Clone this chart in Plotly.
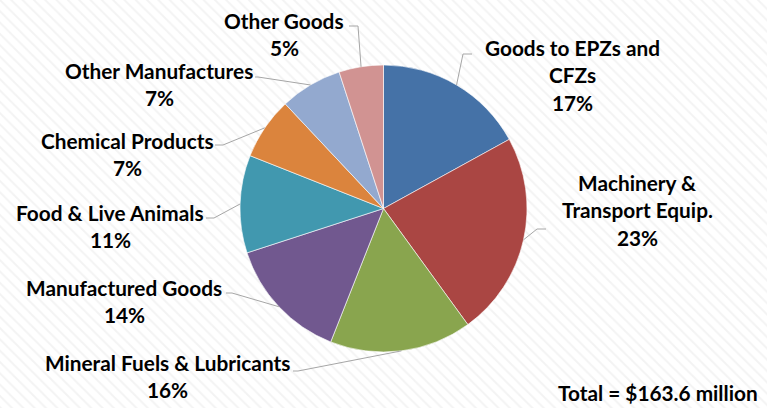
import math
import plotly.graph_objects as go

# ---------------- data ----------------
categories = ["Goods to EPZs and CFZs", "Machinery & Transport Equip.",
              "Mineral Fuels & Lubricants", "Manufactured Goods",
              "Food & Live Animals", "Chemical Products",
              "Other Manufactures", "Other Goods"]
shares = [17, 23, 16, 14, 11, 7, 7, 5]
label_lines = [["Goods to EPZs and", "CFZs"], ["Machinery &", "Transport Equip."],
               ["Mineral Fuels & Lubricants"], ["Manufactured Goods"],
               ["Food & Live Animals"], ["Chemical Products"],
               ["Other Manufactures"], ["Other Goods"]]
total_text = "Total = $163.6 million"

# ---------------- style / layout ----------------
colors = ["#4572A7", "#AA4643", "#89A54E", "#71588F",
          "#4198AF", "#DB843D", "#93A9CF", "#D19392"]
W, H = 767, 408
CX, CY, R = 383.5, 208.5, 143.5
FONT = "Lato"
FS = 20.8
LINE_H = 27.5

# label block centre x, first-line centre y (pixels)
label_pos = [(572, 47), (637, 182), (167, 362), (124, 287),
             (110, 212), (127, 140), (159, 70), (284, 20)]
# leader line elbow and end points (pixels)
leader = [((463, 54), (472, 54)), ((537, 229), (546, 229)),
          ((298, 371), (293, 371)), ((232, 293), (226, 293)),
          ((214, 218), (206, 218)), ((223, 145), (215, 145)),
          ((258, 77), (255, 77)), ((358, 26), (349, 26))]

def px(x):
    return x / W

def py(y):
    return 1 - y / H

fig = go.Figure()

# faint diagonal hatched background
fig.add_trace(go.Bar(x=[0.5], y=[1], width=[1], base=[0],
                     marker=dict(color="white", line=dict(width=0),
                                 pattern=dict(shape="\\", size=8, solidity=0.25,
                                              fgcolor="#e8e8e8", bgcolor="white")),
                     hoverinfo="skip", showlegend=False))

fig.add_trace(go.Pie(labels=categories, values=shares, sort=False,
                     direction="clockwise", rotation=0,
                     marker=dict(colors=colors, line=dict(color="white", width=0.6)),
                     textinfo="none", hoverinfo="label+percent", showlegend=False,
                     domain=dict(x=[px(CX - R), px(CX + R)],
                                 y=[py(CY + R), py(CY - R)])))

total = sum(shares)
cum = 0
annotations = []
shapes = []
for i, v in enumerate(shares):
    mid = (cum + v / 2) / total * 2 * math.pi
    cum += v
    sx = CX + R * math.sin(mid)
    sy = CY - R * math.cos(mid)
    (ex, ey), (fx, fy) = leader[i]
    shapes.append(dict(type="path", xref="paper", yref="paper",
                       path=f"M {px(sx)},{py(sy)} L {px(ex)},{py(ey)} L {px(fx)},{py(fy)}",
                       line=dict(color="#a6a6a6", width=1)))
    lx, ly = label_pos[i]
    lines = label_lines[i] + [f"{round(v / total * 100)}%"]
    for k, t in enumerate(lines):
        annotations.append(dict(x=px(lx), y=py(ly + k * LINE_H), xref="paper", yref="paper",
                                text=f"<b>{t}</b>", showarrow=False,
                                xanchor="center", yanchor="middle",
                                font=dict(family=FONT, size=FS, color="black")))

annotations.append(dict(x=px(760), y=py(392), xref="paper", yref="paper",
                        text=f"<b>{total_text}</b>", showarrow=False,
                        xanchor="right", yanchor="middle",
                        font=dict(family=FONT, size=FS, color="black")))

fig.update_layout(width=W, height=H, margin=dict(l=0, r=0, t=0, b=0),
                  paper_bgcolor="white", plot_bgcolor="white",
                  xaxis=dict(visible=False, range=[0, 1], fixedrange=True),
                  yaxis=dict(visible=False, range=[0, 1], fixedrange=True),
                  bargap=0, annotations=annotations, shapes=shapes)

fig.write_html("out.html", config={"displayModeBar": False},
               post_script="document.body.style.margin='0';")
